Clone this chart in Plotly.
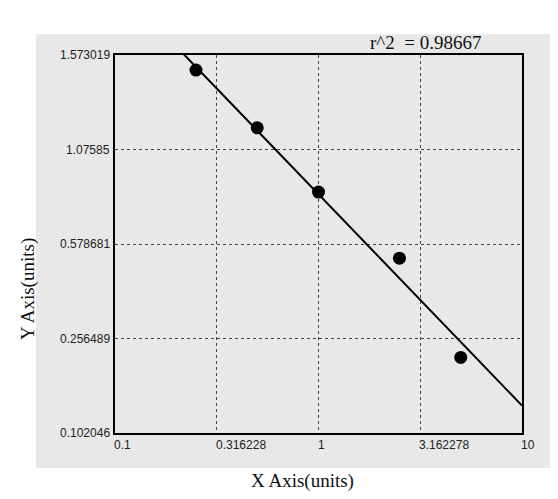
import numpy as np
import plotly.graph_objects as go

# Data (y values expressed in the chart's evenly spaced tick positions 0..4)
x_points = [0.25, 0.5, 1.0, 2.5, 5.0]
y_points = [3.84, 3.23, 2.55, 1.85, 0.80]
fit_x = [0.215, 10.0]
fit_y = [4.02, 0.29]

x_tick_vals = [0.1, 0.316228, 1, 3.162278, 10]
x_tick_text = ["0.1", "0.316228", "1", "3.162278", "10"]
y_tick_pos = [0, 1, 2, 3, 4]
y_tick_text = ["0.102046", "0.256489", "0.578681", "1.07585", "1.573019"]
r2_text = "r^2  = 0.98667"

OFF = 8  # page body margin
W, H = 558 - 2 * OFF, 499 - 2 * OFF
L = 115 - OFF
T = 55 - OFF
R = W - (522 - OFF)
B = H - (433 - OFF)
pw, ph = W - L - R, H - T - B

def px_x(px):
    return (px - OFF - L) / pw

def px_y(py):
    return (H - B - (py - OFF)) / ph

fig = go.Figure()
fig.add_trace(go.Scatter(x=fit_x, y=fit_y, mode="lines",
                         line=dict(color="black", width=2), hoverinfo="skip"))
fig.add_trace(go.Scatter(x=x_points, y=y_points, mode="markers",
                         marker=dict(color="black", size=13)))

grid = dict(showgrid=True, gridcolor="#444444", griddash="dot", gridwidth=1.4)
fig.update_xaxes(type="log", range=[-1, 1], tickvals=x_tick_vals, ticktext=x_tick_text,
                 showticklabels=False, ticks="", showline=True, linecolor="black",
                 linewidth=2, mirror=True, zeroline=False, **grid)
fig.update_yaxes(range=[0, 4], tickvals=y_tick_pos, ticktext=y_tick_text,
                 showticklabels=False, ticks="", showline=True, linecolor="black",
                 linewidth=2, mirror=True, zeroline=False, **grid)

shapes = [dict(type="rect", xref="paper", yref="paper", layer="below",
               x0=px_x(36), x1=px_x(550), y0=px_y(468), y1=px_y(34),
               fillcolor="#e8e8e8", line=dict(width=0))]

tick_font = dict(family="Liberation Sans", size=12, color="#222222")
ann = []
for v, t in zip(x_tick_vals, x_tick_text):
    ann.append(dict(x=np.log10(v), xref="x", y=-0.008, yref="paper", text=t,
                    showarrow=False, xanchor="left", yanchor="top", xshift=-3,
                    font=tick_font))
for v, t in zip(y_tick_pos, y_tick_text):
    ann.append(dict(x=-0.008, xref="paper", y=v, yref="y", text=t,
                    showarrow=False, xanchor="right", yanchor="middle",
                    font=tick_font))
serif = dict(family="Liberation Serif", size=19, color="#111111")
ann.append(dict(x=px_x(302), xref="paper", y=px_y(481), yref="paper",
                text="X Axis(units)", showarrow=False, xanchor="center",
                yanchor="middle", font=serif))
ann.append(dict(x=px_x(28), xref="paper", y=px_y(289), yref="paper",
                text="Y Axis(units)", showarrow=False, xanchor="center",
                yanchor="middle", textangle=-90, font=serif))
ann.append(dict(x=px_x(425), xref="paper", y=px_y(43), yref="paper",
                text=r2_text, showarrow=False, xanchor="center",
                yanchor="middle", font=serif))

fig.update_layout(width=W, height=H, margin=dict(l=L, r=R, t=T, b=B),
                  paper_bgcolor="white", plot_bgcolor="#e9e9e9",
                  showlegend=False, shapes=shapes, annotations=ann)

fig.write_html("out.html")
